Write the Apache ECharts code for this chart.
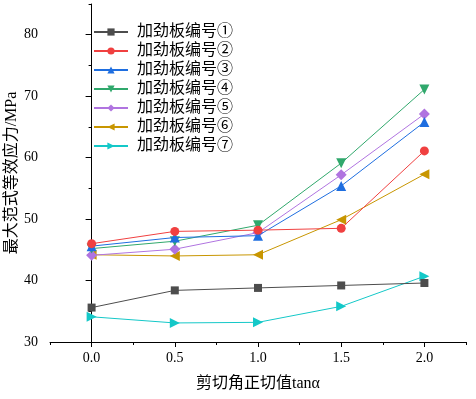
<!DOCTYPE html>
<html>
<head>
<meta charset="utf-8">
<script src="https://cdn.jsdelivr.net/npm/echarts@6/dist/echarts.min.js"></script>
<style>
  html, body { margin: 0; padding: 0; background: #fff; }
  #chart { width: 476px; height: 399px; }
</style>
</head>
<body>
<div id="chart"></div>
<script>
// 剪切角正切值
const tanValues = [0.0, 0.5, 1.0, 1.5, 2.0];
const seriesNames = ["加劲板编号①", "加劲板编号②", "加劲板编号③", "加劲板编号④", "加劲板编号⑤", "加劲板编号⑥", "加劲板编号⑦"];
// 最大范式等效应力 (MPa)
const plate1 = [35.6, 38.4, 38.8, 39.2, 39.6];
const plate2 = [46.0, 48.0, 48.2, 48.5, 61.1];
const plate3 = [45.6, 47.0, 47.3, 55.4, 65.8];
const plate4 = [45.2, 46.4, 49.0, 59.1, 71.1];
const plate5 = [44.1, 45.1, 47.8, 57.2, 67.1];
const plate6 = [44.2, 44.0, 44.2, 49.9, 57.3];
const plate7 = [34.1, 33.1, 33.2, 35.8, 40.7];
const xMajorTicks = [0, 0.5, 1.0, 1.5, 2.0];
const xMinorTicks = [-0.25, 0.25, 0.75, 1.25, 1.75, 2.25];
const yMajorTicks = [30, 40, 50, 60, 70, 80];
const yMinorTicks = [35, 45, 55, 65, 75, 85];

const allData = [plate1, plate2, plate3, plate4, plate5, plate6, plate7];
const colors = ["#4d4d4d", "#f04040", "#1e6ee0", "#30a86c", "#b074e0", "#c89600", "#14c8c8"];
const symbols = [
  "rect",
  "circle",
  "triangle",
  "path://M0,0 L10,0 L5,10 Z",
  "diamond",
  "path://M10,0 L10,10 L0,5 Z",
  "path://M0,0 L0,10 L10,5 Z"
];
const sizes = [8, 9, 10, 10, 11, 10, 10];

const serif = "'Liberation Serif', 'Noto Sans CJK SC', serif";
const chart = echarts.init(document.getElementById("chart"));

const series = allData.map((vals, i) => ({
  name: seriesNames[i],
  type: "line",
  data: vals.map((v, j) => [tanValues[j], v]),
  symbol: symbols[i],
  symbolSize: sizes[i],
  itemStyle: { color: colors[i] },
  lineStyle: { color: colors[i], width: 1 },
  z: 10 - i
}));

chart.setOption({
  animation: false,
  grid: { left: 50, right: 10, top: 4, bottom: 57, containLabel: false, outerBoundsMode: "none" },
  legend: {
    orient: "vertical",
    left: 88,
    top: 19,
    itemWidth: 34,
    itemHeight: 9,
    itemGap: 3,
    data: seriesNames,
    textStyle: { fontSize: 16, lineHeight: 16, color: "#000", fontFamily: serif, padding: [0, 0, 0, 4] }
  },
  xAxis: [
    {
      type: "value",
      min: -0.25,
      max: 2.25,
      name: "剪切角正切值tanα",
      nameLocation: "middle",
      nameGap: 34,
      nameMoveOverlap: false,
      nameTextStyle: { fontSize: 16, color: "#000", fontFamily: serif },
      axisLine: { lineStyle: { color: "#000", width: 1 } },
      axisTick: { show: true, length: 5, customValues: xMajorTicks, lineStyle: { color: "#000" } },
      axisLabel: {
        customValues: xMajorTicks,
        formatter: (v) => v.toFixed(1),
        fontSize: 14, color: "#000", fontFamily: serif, margin: 9
      },
      splitLine: { show: false }
    },
    {
      type: "value",
      min: -0.25,
      max: 2.25,
      position: "bottom",
      axisLine: { show: false },
      axisTick: { show: true, length: 3, customValues: xMinorTicks, lineStyle: { color: "#000" } },
      axisLabel: { show: false },
      splitLine: { show: false }
    }
  ],
  yAxis: [
    {
      type: "value",
      min: 30,
      max: 85,
      name: "最大范式等效应力/MPa",
      nameLocation: "middle",
      nameGap: 30,
      nameMoveOverlap: false,
      nameTextStyle: { fontSize: 16, color: "#000", fontFamily: serif },
      axisLine: { show: true, lineStyle: { color: "#000", width: 1 } },
      axisTick: { show: true, length: 6, customValues: yMajorTicks, lineStyle: { color: "#000" } },
      axisLabel: { customValues: yMajorTicks, fontSize: 14, color: "#000", fontFamily: serif, margin: 12 },
      splitLine: { show: false }
    },
    {
      type: "value",
      min: 30,
      max: 85,
      position: "left",
      axisLine: { show: false },
      axisTick: { show: true, length: 3, customValues: yMinorTicks, lineStyle: { color: "#000" } },
      axisLabel: { show: false },
      splitLine: { show: false }
    }
  ],
  series: series
});
</script>
</body>
</html>
